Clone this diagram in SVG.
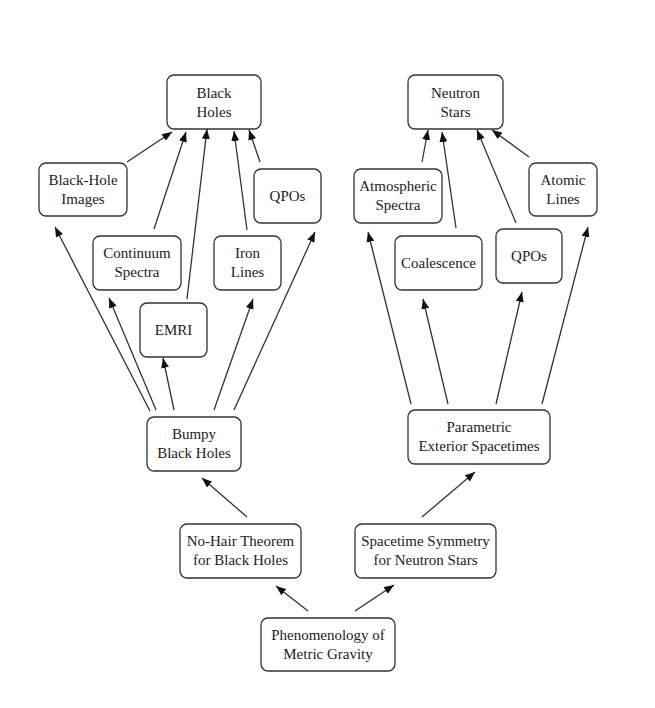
<svg xmlns="http://www.w3.org/2000/svg" width="655" height="708" viewBox="0 0 655 708">
<style>
.box{fill:#fff;stroke:#333;stroke-width:1.3}
text{font-family:"Liberation Serif","Times New Roman",serif;font-size:15px;fill:#222;text-anchor:middle}
.c line{stroke:#333;stroke-width:1.3;marker-end:url(#ah)}
</style>
<defs>
<marker id="ah" markerUnits="userSpaceOnUse" markerWidth="11" markerHeight="8" refX="10" refY="4" orient="auto">
<path d="M0,0 L10,4 L0,8 Z" fill="#111"/>
</marker>
</defs>
<rect width="655" height="708" fill="#fff"/>
<g class="c" id="connectors">
<line x1="127" y1="162" x2="172" y2="132"/>
<line x1="154" y1="229" x2="186" y2="132"/>
<line x1="187" y1="299" x2="207" y2="129"/>
<line x1="247" y1="230" x2="234" y2="131"/>
<line x1="260" y1="162" x2="249" y2="130"/>
<line x1="150" y1="411" x2="55" y2="227"/>
<line x1="156" y1="410" x2="109" y2="298"/>
<line x1="174" y1="410" x2="163" y2="358"/>
<line x1="214" y1="410" x2="253" y2="299"/>
<line x1="234" y1="410" x2="315" y2="232"/>
<line x1="422" y1="162" x2="428" y2="130"/>
<line x1="456" y1="228" x2="442" y2="132"/>
<line x1="516" y1="223" x2="477" y2="130"/>
<line x1="529" y1="157" x2="492" y2="130"/>
<line x1="411" y1="404" x2="368" y2="232"/>
<line x1="448" y1="404" x2="423" y2="299"/>
<line x1="496" y1="404" x2="522" y2="292"/>
<line x1="542" y1="404" x2="588" y2="227"/>
<line x1="308" y1="611" x2="276" y2="586"/>
<line x1="355" y1="611" x2="394" y2="585"/>
<line x1="247" y1="517" x2="202" y2="478"/>
<line x1="422" y1="517" x2="475" y2="472"/>
</g>
<g id="black-holes"><rect class="box" x="167" y="75" width="94" height="54" rx="7"/><text x="214" y="98">Black</text><text x="214" y="117">Holes</text></g>
<g id="bh-images"><rect class="box" x="39" y="163" width="88" height="53" rx="7"/><text x="83" y="185">Black-Hole</text><text x="83" y="204">Images</text></g>
<g id="bh-qpos"><rect class="box" x="254" y="169" width="67" height="54" rx="7"/><text x="287.5" y="201">QPOs</text></g>
<g id="continuum"><rect class="box" x="93" y="236" width="88" height="54" rx="7"/><text x="137" y="258">Continuum</text><text x="137" y="277">Spectra</text></g>
<g id="iron"><rect class="box" x="214" y="236" width="67" height="54" rx="7"/><text x="247.5" y="258">Iron</text><text x="247.5" y="277">Lines</text></g>
<g id="emri"><rect class="box" x="140" y="303" width="67" height="54" rx="7"/><text x="173.5" y="335">EMRI</text></g>
<g id="bumpy"><rect class="box" x="147" y="417" width="94" height="54" rx="7"/><text x="194" y="439">Bumpy</text><text x="194" y="458">Black Holes</text></g>
<g id="neutron-stars"><rect class="box" x="408" y="75" width="95" height="54" rx="7"/><text x="455.5" y="98">Neutron</text><text x="455.5" y="117">Stars</text></g>
<g id="atmospheric"><rect class="box" x="354" y="169" width="88" height="54" rx="7"/><text x="398" y="191">Atmospheric</text><text x="398" y="210">Spectra</text></g>
<g id="atomic"><rect class="box" x="529" y="163" width="68" height="53" rx="7"/><text x="563" y="185">Atomic</text><text x="563" y="204">Lines</text></g>
<g id="coalescence"><rect class="box" x="395" y="236" width="87" height="54" rx="7"/><text x="438.5" y="268">Coalescence</text></g>
<g id="ns-qpos"><rect class="box" x="496" y="229" width="66" height="54" rx="7"/><text x="529" y="261">QPOs</text></g>
<g id="parametric"><rect class="box" x="408" y="410" width="142" height="54" rx="7"/><text x="479" y="432">Parametric</text><text x="479" y="451">Exterior Spacetimes</text></g>
<g id="no-hair"><rect class="box" x="180" y="524" width="121" height="54" rx="7"/><text x="240.5" y="546">No-Hair Theorem</text><text x="240.5" y="565">for Black Holes</text></g>
<g id="symmetry"><rect class="box" x="355" y="524" width="141" height="54" rx="7"/><text x="425.5" y="546">Spacetime Symmetry</text><text x="425.5" y="565">for Neutron Stars</text></g>
<g id="phenomenology"><rect class="box" x="261" y="618" width="134" height="53" rx="7"/><text x="328" y="640">Phenomenology of</text><text x="328" y="659">Metric Gravity</text></g>
</svg>
